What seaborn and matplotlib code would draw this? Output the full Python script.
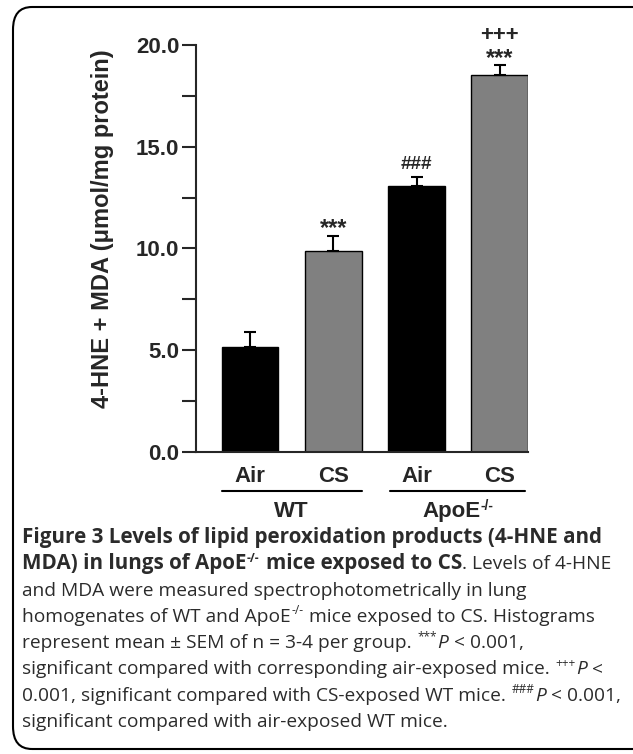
import matplotlib
matplotlib.use("Agg")
import matplotlib.pyplot as plt
import pandas as pd
import seaborn as sns
from matplotlib.patches import FancyBboxPatch

# data
groups = ["WT", "WT", "ApoE", "ApoE"]
exposure = ["Air", "CS", "Air", "CS"]
means = [5.15, 9.9, 13.05, 18.55]
sems = [0.75, 0.72, 0.44, 0.46]
bar_colors = ["#000000", "#808080", "#000000", "#808080"]
signif = ["", "***", "###", "***"]
signif2 = ["", "", "", "+++"]
yticks = [0, 5, 10, 15, 20]
ytick_labels = ["0.0", "5.0", "10.0", "15.0", "20.0"]

df = pd.DataFrame({"cond": [g + " " + e for g, e in zip(groups, exposure)],
                   "exp": exposure, "value": means})

sns.set_style("ticks")
plt.rcParams["font.family"] = ["Liberation Sans", "DejaVu Sans"]

fig = plt.figure(figsize=(6.33, 7.54), dpi=100)
ax = fig.add_axes([196 / 633, 1 - 452 / 754, (528 - 196) / 633, (452 - 45) / 754])

sns.barplot(data=df, x="cond", y="value", hue="cond", palette=bar_colors,
            width=0.68, edgecolor="black", linewidth=1.0, legend=False, ax=ax)
ax.errorbar(range(len(means)), means, yerr=[[0] * len(sems), sems], fmt="none",
            ecolor="black", elinewidth=1.5, capsize=4.5, capthick=1.5)

ax.set_ylim(0, 20)
ax.set_xlim(-0.65, 3.34)
ax.set_yticks(yticks)
ax.set_yticklabels(ytick_labels, fontsize=16, fontweight="bold")
ax.set_yticks([2.5, 7.5, 12.5, 17.5], minor=True)
ax.tick_params(axis="y", which="both", length=10, width=1.5, pad=2)
ax.set_xticks(range(len(exposure)))
ax.set_xticklabels(exposure, fontsize=16, fontweight="bold")
ax.tick_params(axis="x", length=0, pad=10)
for s in ["left", "bottom"]:
    ax.spines[s].set_linewidth(1.5)
sns.despine(ax=ax)
ax.set_xlabel("")
ax.set_ylabel("4-HNE + MDA (μmol/mg protein)", fontsize=17, fontweight="bold")
ax.yaxis.set_label_coords(-0.246, 0.548)

# significance marks (baseline just above the error bar)
offs = {"***": 0.02, "###": 0.44, "+++": 1.2}
sizes = {"***": 17, "###": 13.5, "+++": 16}
for marks in (signif, signif2):
    for i, (m, s, t) in enumerate(zip(means, sems, marks)):
        if t:
            ax.text(i, m + s + offs[t], t, ha="center", va="baseline",
                    fontsize=sizes[t], fontweight="bold")

# group bars under the x labels
tr = ax.get_xaxis_transform()
ax.plot([-0.34, 1.34], [-0.097, -0.097], color="black", lw=1.5, transform=tr, clip_on=False)
ax.plot([1.68, 3.3], [-0.097, -0.097], color="black", lw=1.5, transform=tr, clip_on=False)
ax.text(0.5, -0.16, "WT", transform=tr, ha="center", va="baseline", fontsize=16, fontweight="bold")
t = ax.text(2.42, -0.16, "ApoE", transform=tr, ha="center", va="baseline", fontsize=16, fontweight="bold")

fig.canvas.draw()
renderer = fig.canvas.get_renderer()
bb = t.get_window_extent(renderer)
fig.text(bb.x1 / 633, bb.y0 / 754 + 0.016, "-/-", fontsize=10, fontweight="bold")

# border
fig.patches.append(FancyBboxPatch((13 / 633, 5 / 754), 640 / 633, 742 / 754,
                                  boxstyle="round,pad=0,rounding_size=0.03",
                                  transform=fig.transFigure, fill=False,
                                  edgecolor="black", linewidth=1.5, clip_on=False))

# caption with mixed styles
cap_font = ["Open Sans", "DejaVu Sans"]
reg_size = 13.8
bold_size = 14.9


def run_width(txt, kw):
    tt = fig.text(0, 0, txt, **kw)
    w = tt.get_window_extent(renderer).width
    tt.remove()
    return w


def draw_line(x_px, y_px, parts):
    for txt, style in parts:
        size = bold_size if "b" in style else reg_size
        kw = dict(fontsize=size, family=cap_font, color="#2b2b2b")
        dy = 0
        if "b" in style:
            kw["fontweight"] = "bold"
        if "i" in style:
            kw["fontstyle"] = "italic"
        if "s" in style:
            kw["fontsize"] = reg_size * 0.62
            dy = 7.5
        core = txt.rstrip(" ")
        lead = len(core) - len(core.lstrip(" "))
        trail = len(txt) - len(core)
        sp = run_width("x x", kw) - run_width("xx", kw)
        x_px += lead * sp
        core = core.lstrip(" ")
        if core:
            fig.text(x_px / 633, 1 - (y_px - dy) / 754, core, va="baseline", **kw)
            x_px += run_width(core, kw) + 0.5
        x_px += trail * sp


lines = [
    [("Figure 3 Levels of lipid peroxidation products (4-HNE and", "b")],
    [("MDA) in lungs of ApoE", "b"), ("-/-", "bs"), (" mice exposed to CS", "b"), (". Levels of 4-HNE", "")],
    [("and MDA were measured spectrophotometrically in lung", "")],
    [("homogenates of WT and ApoE", ""), ("-/-", "s"), (" mice exposed to CS. Histograms", "")],
    [("represent mean ± SEM of n = 3-4 per group. ", ""), ("***", "s"), ("P", "i"), (" < 0.001,", "")],
    [("significant compared with corresponding air-exposed mice. ", ""), ("+++", "s"), ("P", "i"), (" <", "")],
    [("0.001, significant compared with CS-exposed WT mice. ", ""), ("###", "s"), ("P", "i"), (" < 0.001,", "")],
    [("significant compared with air-exposed WT mice.", "")],
]
for k, parts in enumerate(lines):
    draw_line(22, 543 + k * 26.3, parts)

fig.savefig("out.png", dpi=100)
